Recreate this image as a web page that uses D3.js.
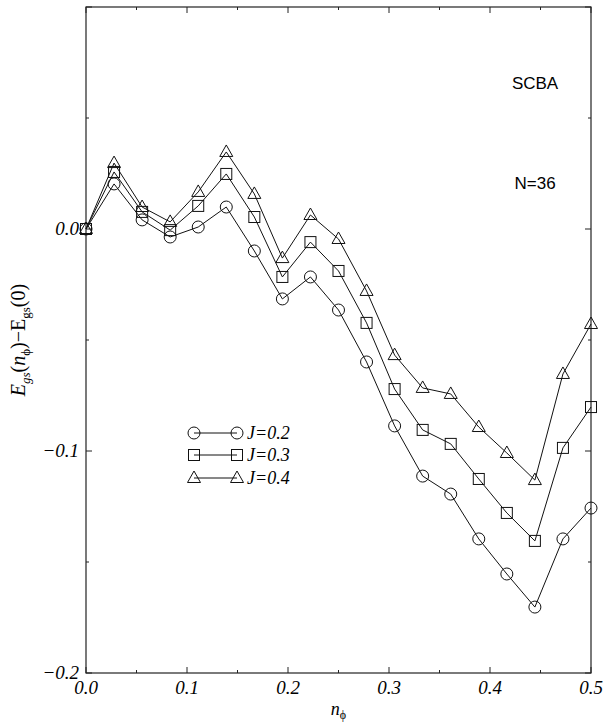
<!DOCTYPE html>
<html>
<head>
<meta charset="utf-8">
<script src="https://cdn.jsdelivr.net/npm/d3@7"></script>
<style>
  body { margin: 0; background: #fff; }
  svg { display: block; }
</style>
</head>
<body>
<div id="chart"></div>
<script>
const nphi = d3.range(19).map((i) => i / 36);

// one value per n_phi = k/36
const j02 = [0, 0.0203, 0.0041, -0.0036, 0.0009, 0.0099, -0.0099, -0.0315, -0.0216, -0.0365,
  -0.0599, -0.0887, -0.1113, -0.1194, -0.1396, -0.1554, -0.1703, -0.1396, -0.1257];
const j03 = [0, 0.0257, 0.0077, -0.0005, 0.0104, 0.0248, 0.0054, -0.0216, -0.0059, -0.0189,
  -0.0423, -0.0721, -0.0905, -0.0968, -0.1126, -0.1279, -0.1405, -0.0986, -0.0802];
const j04 = [0, 0.0297, 0.0099, 0.0032, 0.0167, 0.0347, 0.0158, -0.0131, 0.0063, -0.0045,
  -0.0279, -0.0568, -0.0716, -0.0743, -0.0892, -0.1009, -0.1131, -0.0653, -0.0428];

const seriesNames = ["J=0.2", "J=0.3", "J=0.4"];
const seriesValues = [j02, j03, j04];
const seriesSymbols = ["circle", "square", "triangle"];

const xTicks = [0, 0.1, 0.2, 0.3, 0.4, 0.5];
const yTicks = [-0.2, -0.1, 0.0];
const xMinor = d3.range(11).map((i) => i * 0.05);
const yMinor = d3.range(7).map((i) => -0.2 + i * 0.05);

const W = 603, H = 727;
const margin = { top: 7, right: 12, bottom: 54, left: 86 };
const width = W - margin.left - margin.right,
  height = H - margin.top - margin.bottom;

const svg = d3.select("#chart").append("svg").attr("width", W).attr("height", H);
const g = svg.append("g").attr("transform", `translate(${margin.left},${margin.top})`);

const x = d3.scaleLinear().domain([0, 0.5]).range([0, width]);
const y = d3.scaleLinear().domain([-0.2, 0.1]).range([height, 0]);

const fmt = (d) => (d < 0 ? "\u2212" : "") + Math.abs(d).toFixed(1);
const serif = "'Liberation Serif', 'Times New Roman', serif";

// frame
g.append("rect")
  .attr("width", width).attr("height", height)
  .attr("fill", "none").attr("stroke", "#222").attr("stroke-width", 1.2);

// inward ticks on all four sides
const tickG = g.append("g").attr("stroke", "#222").attr("stroke-width", 1);
xMinor.forEach((d, i) => {
  const len = i % 2 === 0 ? 6 : 3;
  tickG.append("line").attr("x1", x(d)).attr("x2", x(d)).attr("y1", height).attr("y2", height - len);
  tickG.append("line").attr("x1", x(d)).attr("x2", x(d)).attr("y1", 0).attr("y2", len);
});
yMinor.forEach((d, i) => {
  const len = i % 2 === 0 ? 6 : 3;
  tickG.append("line").attr("y1", y(d)).attr("y2", y(d)).attr("x1", 0).attr("x2", len);
  tickG.append("line").attr("y1", y(d)).attr("y2", y(d)).attr("x1", width).attr("x2", width - len);
});

// tick labels
g.append("g").selectAll("text").data(xTicks).join("text")
  .attr("x", (d) => x(d)).attr("y", height + 21)
  .attr("text-anchor", "middle")
  .style("font-family", serif).style("font-style", "italic").style("font-size", "19px")
  .text(fmt);

g.append("g").selectAll("text").data(yTicks).join("text")
  .attr("x", -7).attr("y", (d) => y(d) + 6)
  .attr("text-anchor", "end")
  .style("font-family", serif).style("font-style", "italic").style("font-size", "19px")
  .text(fmt);

// axis titles
const xl = svg.append("text")
  .attr("x", margin.left + width / 2).attr("y", H - 12)
  .attr("text-anchor", "middle")
  .style("font-family", serif).style("font-size", "18px");
xl.append("tspan").style("font-style", "italic").text("n");
xl.append("tspan").attr("dy", 4).style("font-size", "12px").text("\u03d5");

const yl = svg.append("text")
  .attr("transform", `translate(25,${margin.top + height / 2}) rotate(-90)`)
  .attr("text-anchor", "middle")
  .style("font-family", serif).style("font-size", "20px");
yl.append("tspan").style("font-style", "italic").text("E");
yl.append("tspan").attr("dy", 5).style("font-size", "13px").style("font-style", "italic").text("gs");
yl.append("tspan").attr("dy", -5).text("(");
yl.append("tspan").style("font-style", "italic").text("n");
yl.append("tspan").attr("dy", 5).style("font-size", "13px").text("\u03d5");
yl.append("tspan").attr("dy", -5).text(")\u2212E");
yl.append("tspan").attr("dy", 5).style("font-size", "13px").text("gs");
yl.append("tspan").attr("dy", -5).text("(0)");

// annotations
const sans = "'Liberation Sans', Arial, sans-serif";
g.append("text").attr("x", x(0.4446)).attr("y", y(0.063))
  .attr("text-anchor", "middle")
  .style("font-family", sans).style("font-size", "17px").text("SCBA");
g.append("text").attr("x", x(0.4446)).attr("y", y(0.018))
  .attr("text-anchor", "middle")
  .style("font-family", sans).style("font-size", "17px").text("N=36");

// symbols
const drawSymbol = (sel, kind, cx, cy) => {
  if (kind === "circle") {
    sel.append("circle").attr("cx", cx).attr("cy", cy).attr("r", 6);
  } else if (kind === "square") {
    sel.append("rect").attr("x", cx - 5.5).attr("y", cy - 5.5).attr("width", 11).attr("height", 11);
  } else {
    sel.append("path").attr("d", `M${cx},${cy - 7}L${cx + 6.5},${cy + 4.5}L${cx - 6.5},${cy + 4.5}Z`);
  }
};

const line = d3.line().x((d, i) => x(nphi[i])).y((d) => y(d));

seriesValues.forEach((vals, s) => {
  g.append("path").datum(vals)
    .attr("d", line)
    .attr("fill", "none").attr("stroke", "#111").attr("stroke-width", 1);
  const mg = g.append("g").attr("fill", "none").attr("stroke", "#111").attr("stroke-width", 1);
  vals.forEach((v, i) => drawSymbol(mg, seriesSymbols[s], x(nphi[i]), y(v)));
});

// legend
const legY = [433, 455, 478];
seriesNames.forEach((name, s) => {
  const ly = legY[s] - margin.top;
  const lx0 = 194 - margin.left, lx1 = 237 - margin.left;
  g.append("line").attr("x1", lx0).attr("x2", lx1).attr("y1", ly).attr("y2", ly)
    .attr("stroke", "#111").attr("stroke-width", 1);
  const mg = g.append("g").attr("fill", "none").attr("stroke", "#111").attr("stroke-width", 1);
  drawSymbol(mg, seriesSymbols[s], lx0, ly);
  drawSymbol(mg, seriesSymbols[s], lx1, ly);
  g.append("text").attr("x", lx1 + 10).attr("y", ly + 6)
    .style("font-family", serif).style("font-style", "italic").style("font-size", "18px")
    .text(name);
});
</script>
</body>
</html>
